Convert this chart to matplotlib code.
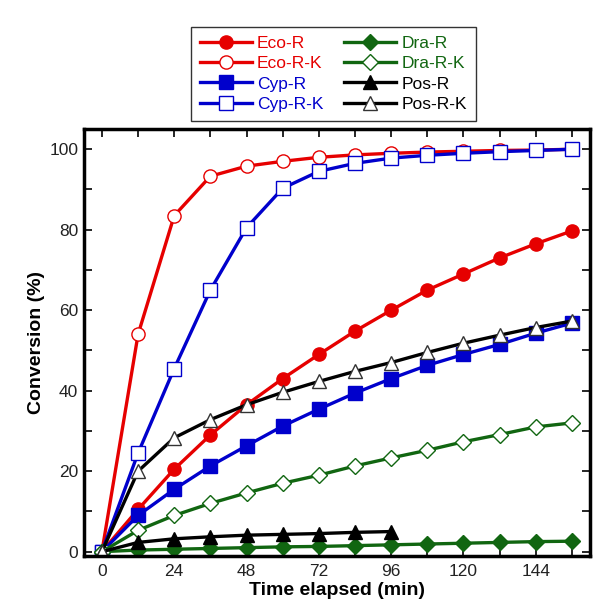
import numpy as np
import matplotlib
matplotlib.use("Agg")
import matplotlib.pyplot as plt
from matplotlib.ticker import MultipleLocator

plt.rcParams['font.family'] = ['Liberation Sans', 'DejaVu Sans']

# time points (min)
t = [0, 12, 24, 36, 48, 60, 72, 84, 96, 108, 120, 132, 144, 156]
t_pos = t[:9]

eco_r = [0, 10.5, 20.5, 29, 36.5, 43, 49, 54.8, 60, 65, 69, 73, 76.5, 79.7]
eco_rk = [0, 54, 83.5, 93.3, 95.8, 97, 98, 98.6, 99, 99.3, 99.5, 99.7, 99.8, 100]
cyp_r = [0, 9, 15.5, 21.3, 26.3, 31.2, 35.4, 39.4, 43, 46.3, 49, 51.5, 54.3, 56.8]
cyp_rk = [0, 24.5, 45.5, 65, 80.5, 90.3, 94.5, 96.5, 97.8, 98.5, 99, 99.4, 99.7, 100]
dra_r = [0, 0.4, 0.6, 0.8, 1.0, 1.2, 1.3, 1.5, 1.7, 1.9, 2.1, 2.3, 2.5, 2.6]
dra_rk = [0, 5.3, 9, 12, 14.6, 17, 19, 21.3, 23.3, 25.2, 27.3, 29.1, 31, 32]
pos_r = [0, 2.3, 3.2, 3.7, 4.1, 4.3, 4.5, 4.8, 5]
pos_rk = [0, 20, 28.3, 32.8, 36.5, 39.6, 42.3, 44.8, 47, 49.5, 51.8, 53.8, 55.7, 57.3]

red = '#e60000'
blue = '#0000cc'
green = '#116611'
black = '#000000'

fig = plt.figure(figsize=(6.12, 6.12), dpi=100)
ax = fig.add_axes([0.137, 0.092, 0.827, 0.697])

lw = 2.4
ms = 9.5
series = [
    (t, eco_r, red, 'o', True, 'Eco-R'),
    (t, eco_rk, red, 'o', False, 'Eco-R-K'),
    (t, cyp_r, blue, 's', True, 'Cyp-R'),
    (t, cyp_rk, blue, 's', False, 'Cyp-R-K'),
    (t, dra_r, green, 'D', True, 'Dra-R'),
    (t, dra_rk, green, 'D', False, 'Dra-R-K'),
    (t_pos, pos_r, black, '^', True, 'Pos-R'),
    (t, pos_rk, black, '^', False, 'Pos-R-K'),
]

handles = {}
for x, y, c, m, filled, lab in series:
    size = ms * 0.85 if m == 'D' else ms
    h, = ax.plot(x, y, color=c, lw=lw, marker=m, markersize=size,
                 markerfacecolor=c if filled else 'white',
                 markeredgecolor=c if filled else (c if c != black else '#333333'),
                 markeredgewidth=1.0, label=lab)
    handles[lab] = h

ax.set_xlim(-6, 162)
ax.set_ylim(-1, 105)
ax.xaxis.set_major_locator(MultipleLocator(24))
ax.xaxis.set_minor_locator(MultipleLocator(12))
ax.yaxis.set_major_locator(MultipleLocator(20))
ax.yaxis.set_minor_locator(MultipleLocator(10))
ax.tick_params(which='both', direction='in', top=True, right=True,
               labelsize=12.5, width=1.2, labelcolor='#222222')
ax.tick_params(axis='x', pad=6)
ax.tick_params(axis='y', pad=4)
ax.tick_params(which='major', length=6)
ax.tick_params(which='minor', length=6)
for s in ax.spines.values():
    s.set_linewidth(2.5)

ax.set_xlabel('Time elapsed (min)', fontsize=14, fontweight='bold', labelpad=2)
ax.set_ylabel('Conversion (%)', fontsize=14, fontweight='bold', labelpad=3)

order = ['Eco-R', 'Eco-R-K', 'Cyp-R', 'Cyp-R-K', 'Dra-R', 'Dra-R-K', 'Pos-R', 'Pos-R-K']
leg = fig.legend([handles[k] for k in order], order, ncol=2,
                 loc='upper left', bbox_to_anchor=(191 / 612, 1 - 27 / 612),
                 fontsize=12.5, frameon=True, fancybox=False, edgecolor='black',
                 handlelength=3.0, handletextpad=0.3, columnspacing=1.2,
                 labelspacing=0.3, borderpad=0.5, borderaxespad=0)
leg.get_frame().set_linewidth(1.0)
for txt, k in zip(leg.get_texts(), order):
    txt.set_color(dict((s[5], s[2]) for s in series)[k])

fig.savefig('out.png', dpi=100)
